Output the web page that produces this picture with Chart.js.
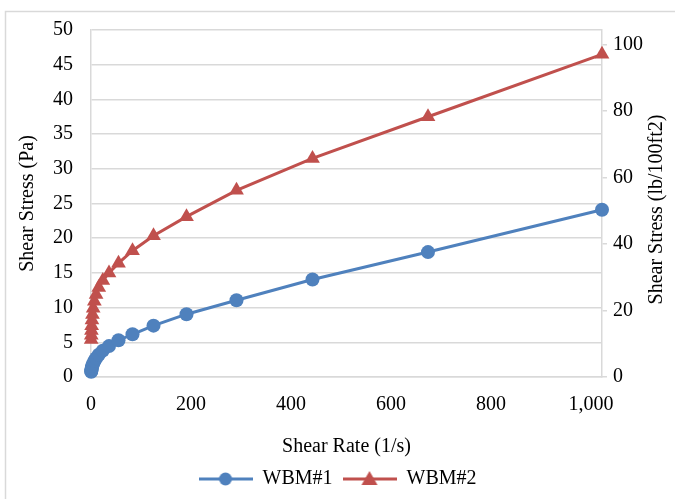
<!DOCTYPE html>
<html>
<head>
<meta charset="utf-8">
<script src="https://cdn.jsdelivr.net/npm/chart.js@4.4.1/dist/chart.umd.min.js"></script>
<style>
  html, body { margin: 0; padding: 0; background: #fff; }
  #wrap { width: 675px; height: 499px; position: relative; }
</style>
</head>
<body>
<div id="wrap"><canvas id="rheo" width="675" height="499"></canvas></div>
<script>
// shear rate (1/s) and shear stress (Pa)
const shearRate = [0.36, 0.54, 0.83, 1.26, 1.9, 2.9, 4.4, 6.7, 10.2, 15.5, 23.6, 36, 55, 83, 125, 191, 291, 443, 674, 1022];
const wbm1 = [0.75, 0.85, 1.0, 1.2, 1.4, 1.65, 1.95, 2.3, 2.7, 3.2, 3.8, 4.45, 5.3, 6.15, 7.4, 9.05, 11.05, 14.05, 18.0, 24.1];
const wbm2 = [5.4, 6.0, 6.7, 7.4, 8.2, 9.0, 9.9, 10.9, 11.9, 12.9, 13.9, 15.0, 16.4, 18.2, 20.35, 23.1, 26.9, 31.5, 37.5, 46.5];
const seriesNames = ['WBM#1', 'WBM#2'];
const xTicks = [0, 200, 400, 600, 800, 1000];
const yTicksPa = [0, 5, 10, 15, 20, 25, 30, 35, 40, 45, 50];
const yTicksField = [0, 20, 40, 60, 80, 100];
const PA_TO_LBF = 2.0885; // 1 Pa in lb/100ft2

const blue = '#4F81BD';
const red = '#C0504D';
const gridColor = '#d9d9d9';
const serif = "'Liberation Serif', 'Times New Roman', serif";
const fontSize = 20;

function toPoints(ys) {
    return shearRate.map((x, i) => ({ x: x, y: ys[i] }));
}

// legend marks: line with the marker in the middle, like Excel
function legendIcon(color, shape) {
    const c = document.createElement('canvas');
    c.width = 54; c.height = 18;
    const g = c.getContext('2d');
    g.strokeStyle = color;
    g.lineWidth = 3;
    g.beginPath(); g.moveTo(0, 9); g.lineTo(54, 9); g.stroke();
    g.fillStyle = color;
    g.beginPath();
    if (shape === 'circle') {
        g.arc(27, 9, 6.5, 0, Math.PI * 2);
    } else {
        g.moveTo(27, 1); g.lineTo(35, 15); g.lineTo(19, 15); g.closePath();
    }
    g.fill();
    return c;
}
const legendIcons = [legendIcon(blue, 'circle'), legendIcon(red, 'triangle')];

const framePlugin = {
    id: 'frame',
    beforeDraw(chart) {
        const ctx = chart.ctx;
        ctx.save();
        ctx.fillStyle = '#fff';
        ctx.fillRect(0, 0, chart.width, chart.height);
        ctx.strokeStyle = gridColor;
        ctx.lineWidth = 1.5;
        ctx.strokeRect(5.5, 11.5, 700, 520);
        ctx.restore();
    },
    afterDraw(chart) {
        // right axis title reads bottom-to-top, as in the original
        const a = chart.chartArea;
        const ctx = chart.ctx;
        ctx.save();
        ctx.translate(657, (a.top + a.bottom) / 2 + 6);
        ctx.rotate(-Math.PI / 2);
        ctx.font = fontSize + 'px ' + serif;
        ctx.fillStyle = '#000';
        ctx.textAlign = 'center';
        ctx.textBaseline = 'middle';
        ctx.fillText('Shear Stress (lb/100ft2)', 0, 0);
        ctx.restore();
    }
};

new Chart(document.getElementById('rheo'), {
    type: 'scatter',
    data: {
        datasets: [{
            label: seriesNames[0],
            data: toPoints(wbm1),
            showLine: true,
            borderColor: blue,
            backgroundColor: blue,
            borderWidth: 3,
            pointStyle: 'circle',
            pointRadius: 7,
            pointBorderWidth: 0,
            pointHoverRadius: 7,
            clip: false,
            yAxisID: 'y'
        }, {
            label: seriesNames[1],
            data: toPoints(wbm2),
            showLine: true,
            borderColor: red,
            backgroundColor: red,
            borderWidth: 3,
            pointStyle: 'triangle',
            pointRadius: 8.5,
            pointBorderWidth: 0,
            pointHoverRadius: 8.5,
            clip: false,
            yAxisID: 'y'
        }]
    },
    options: {
        responsive: false,
        animation: false,
        layout: { padding: { top: 30, left: 0, right: 0, bottom: 0 } },
        plugins: {
            legend: {
                position: 'bottom',
                labels: {
                    usePointStyle: true,
                    pointStyleWidth: 54,
                    boxHeight: 18,
                    padding: 10,
                    color: '#000',
                    font: { family: serif, size: fontSize },
                    generateLabels: chart => chart.data.datasets.map((ds, i) => ({
                        text: ds.label,
                        pointStyle: legendIcons[i],
                        fillStyle: ds.borderColor,
                        strokeStyle: ds.borderColor,
                        lineWidth: 0,
                        hidden: false,
                        datasetIndex: i
                    }))
                }
            },
            tooltip: { enabled: false }
        },
        scales: {
            x: {
                type: 'linear',
                min: 0,
                max: 1022,
                afterBuildTicks: s => { s.ticks = xTicks.map(v => ({ value: v })); },
                afterFit: s => { s.height = 82; },
                grid: { display: false },
                border: { display: true, color: gridColor, width: 1.5 },
                ticks: {
                    padding: 8,
                    color: '#000',
                    font: { family: serif, size: fontSize },
                    maxRotation: 0
                },
                title: {
                    display: true,
                    text: 'Shear Rate (1/s)',
                    color: '#000',
                    font: { family: serif, size: fontSize },
                    padding: { top: 0, bottom: 0 }
                }
            },
            y: {
                position: 'left',
                min: 0,
                max: 50,
                afterBuildTicks: s => { s.ticks = yTicksPa.map(v => ({ value: v })); },
                afterFit: s => { s.width = 91; },
                grid: { color: gridColor, lineWidth: 1.5, drawTicks: false },
                border: { display: true, color: gridColor, width: 1.5 },
                ticks: {
                    padding: 18,
                    color: '#000',
                    font: { family: serif, size: fontSize }
                },
                title: {
                    display: true,
                    text: 'Shear Stress (Pa)',
                    color: '#000',
                    font: { family: serif, size: fontSize },
                    padding: { top: 16, bottom: 0 }
                }
            },
            y2: {
                position: 'right',
                min: 0,
                max: 50 * PA_TO_LBF,
                afterBuildTicks: s => { s.ticks = yTicksField.map(v => ({ value: v })); },
                afterFit: s => { s.width = 73; },
                grid: { drawOnChartArea: false, drawTicks: true, tickLength: 5, color: gridColor, lineWidth: 1.5 },
                border: { display: true, color: gridColor, width: 1.5 },
                ticks: {
                    padding: 6,
                    color: '#000',
                    font: { family: serif, size: fontSize }
                }
            }
        }
    },
    plugins: [framePlugin]
});
</script>
</body>
</html>
